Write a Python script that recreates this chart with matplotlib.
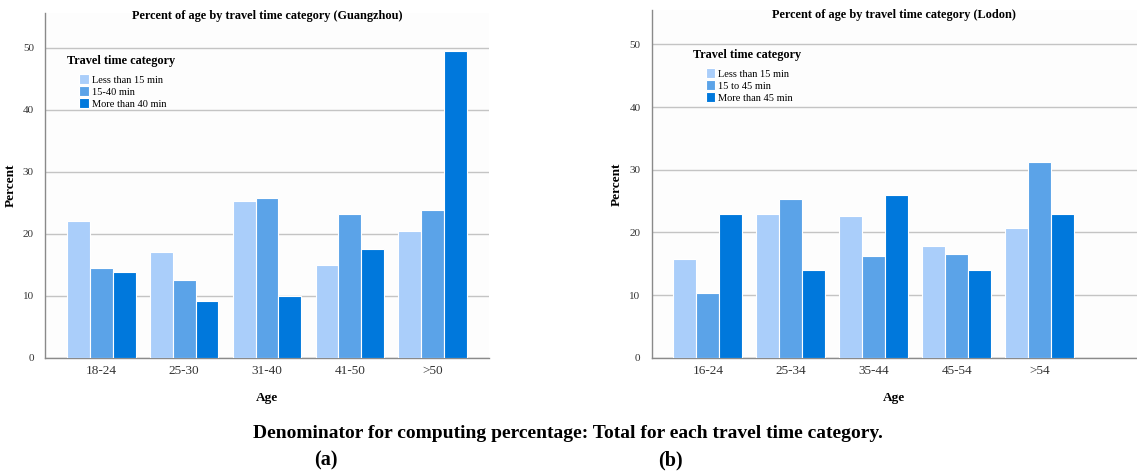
import numpy as np
import matplotlib.pyplot as plt

plt.rcParams['font.family'] = ['Liberation Serif', 'DejaVu Serif']

# data
series = ["Less than 15 min", "15-40 min", "More than 40 min"]
series_ldn = ["Less than 15 min", "15 to 45 min", "More than 45 min"]
colors = ["#aaceFA", "#5ba3e8", "#0078dc"]

ages_gz = ["18-24", "25-30", "31-40", "41-50", ">50"]
short_gz = [22.0, 17.1, 25.3, 15.0, 20.4]
mid_gz = [14.5, 12.6, 25.8, 23.2, 23.9]
long_gz = [13.9, 9.1, 10.0, 17.5, 49.4]

ages_ldn = ["16-24", "25-34", "35-44", "45-54", ">54"]
short_ldn = [15.7, 22.9, 22.6, 17.8, 20.7]
mid_ldn = [10.3, 25.4, 16.2, 16.5, 31.3]
long_ldn = [22.9, 14.0, 26.0, 14.0, 22.9]

W, H = 1137, 471
fig = plt.figure(figsize=(W / 100, H / 100), dpi=100)


def px_axes(x0, y0, x1, y1):
    # pixel box (top-left origin) -> figure fraction
    return fig.add_axes([x0 / W, 1 - y1 / H, (x1 - x0) / W, (y1 - y0) / H])


def draw(ax, ages, vals, labels, title, xlim, ytop, title_y, ylabelpad):
    x = np.arange(len(ages))
    step = 0.277
    for i, v in enumerate(vals):
        ax.bar(x + (i - 1) * step, v, width=step, color=colors[i],
               edgecolor="white", linewidth=0.8, label=labels[i], zorder=3)
    ax.set_xlim(*xlim)
    ax.set_ylim(0, ytop)
    ax.set_yticks([0, 10, 20, 30, 40, 50])
    ax.set_xticks(x)
    ax.set_xticklabels(ages, fontsize=9.5, color="#333333")
    ax.tick_params(axis="y", labelsize=8, colors="#333333", length=0, pad=8)
    ax.tick_params(axis="x", length=0, pad=5)
    ax.yaxis.grid(True, color="#c4c4c4", linewidth=1.0, zorder=0)
    ax.set_axisbelow(True)
    for s in ["top", "right"]:
        ax.spines[s].set_visible(False)
    for s in ["left", "bottom"]:
        ax.spines[s].set_color("#8a8a8a")
        ax.spines[s].set_linewidth(1.0)
    ax.set_facecolor("#fdfdfd")
    ax.set_title(title, fontsize=8.8, fontweight="bold", pad=0, y=title_y)
    ax.set_xlabel("Age", fontsize=9.5, fontweight="bold", labelpad=11)
    ax.set_ylabel("Percent", fontsize=9.5, fontweight="bold", labelpad=ylabelpad)


def legend(ax, tx, ty, lx, ly, labels):
    ax.text(tx, ty, "Travel time category", transform=ax.transAxes,
            fontsize=8.8, fontweight="bold", va="center")
    ax.legend(loc="upper left", bbox_to_anchor=(lx, ly), frameon=False,
              fontsize=7.5, handlelength=0.9, handleheight=1.1,
              handletextpad=0.3, labelspacing=0.15, borderaxespad=0)


ax1 = px_axes(45, 13, 489, 357.7)
draw(ax1, ages_gz, [short_gz, mid_gz, long_gz], series,
     "Percent of age by travel time category (Guangzhou)",
     (-0.675, 4.675), 55.6, 0.983, 4)
legend(ax1, 0.05, 0.862, 0.068, 0.835, series)

ax2 = px_axes(651.7, 10, 1137, 357.7)
draw(ax2, ages_ldn, [short_ldn, mid_ldn, long_ldn], series_ldn,
     "Percent of age by travel time category (Lodon)",
     (-0.678, 5.169), 55.5, 0.977, 5)
legend(ax2, 0.085, 0.870, 0.103, 0.845, series_ldn)

fig.text(568 / W, 1 - 434 / H,
         "Denominator for computing percentage: Total for each travel time category.",
         ha="center", va="center", fontsize=14, fontweight="bold")
fig.text(326 / W, 1 - 460 / H, "(a)", ha="center", va="center",
         fontsize=14.5, fontweight="bold")
fig.text(670 / W, 1 - 460 / H, "(b)", ha="center", va="center",
         fontsize=14.5, fontweight="bold")

fig.savefig("out.png", dpi=100, facecolor="white")
